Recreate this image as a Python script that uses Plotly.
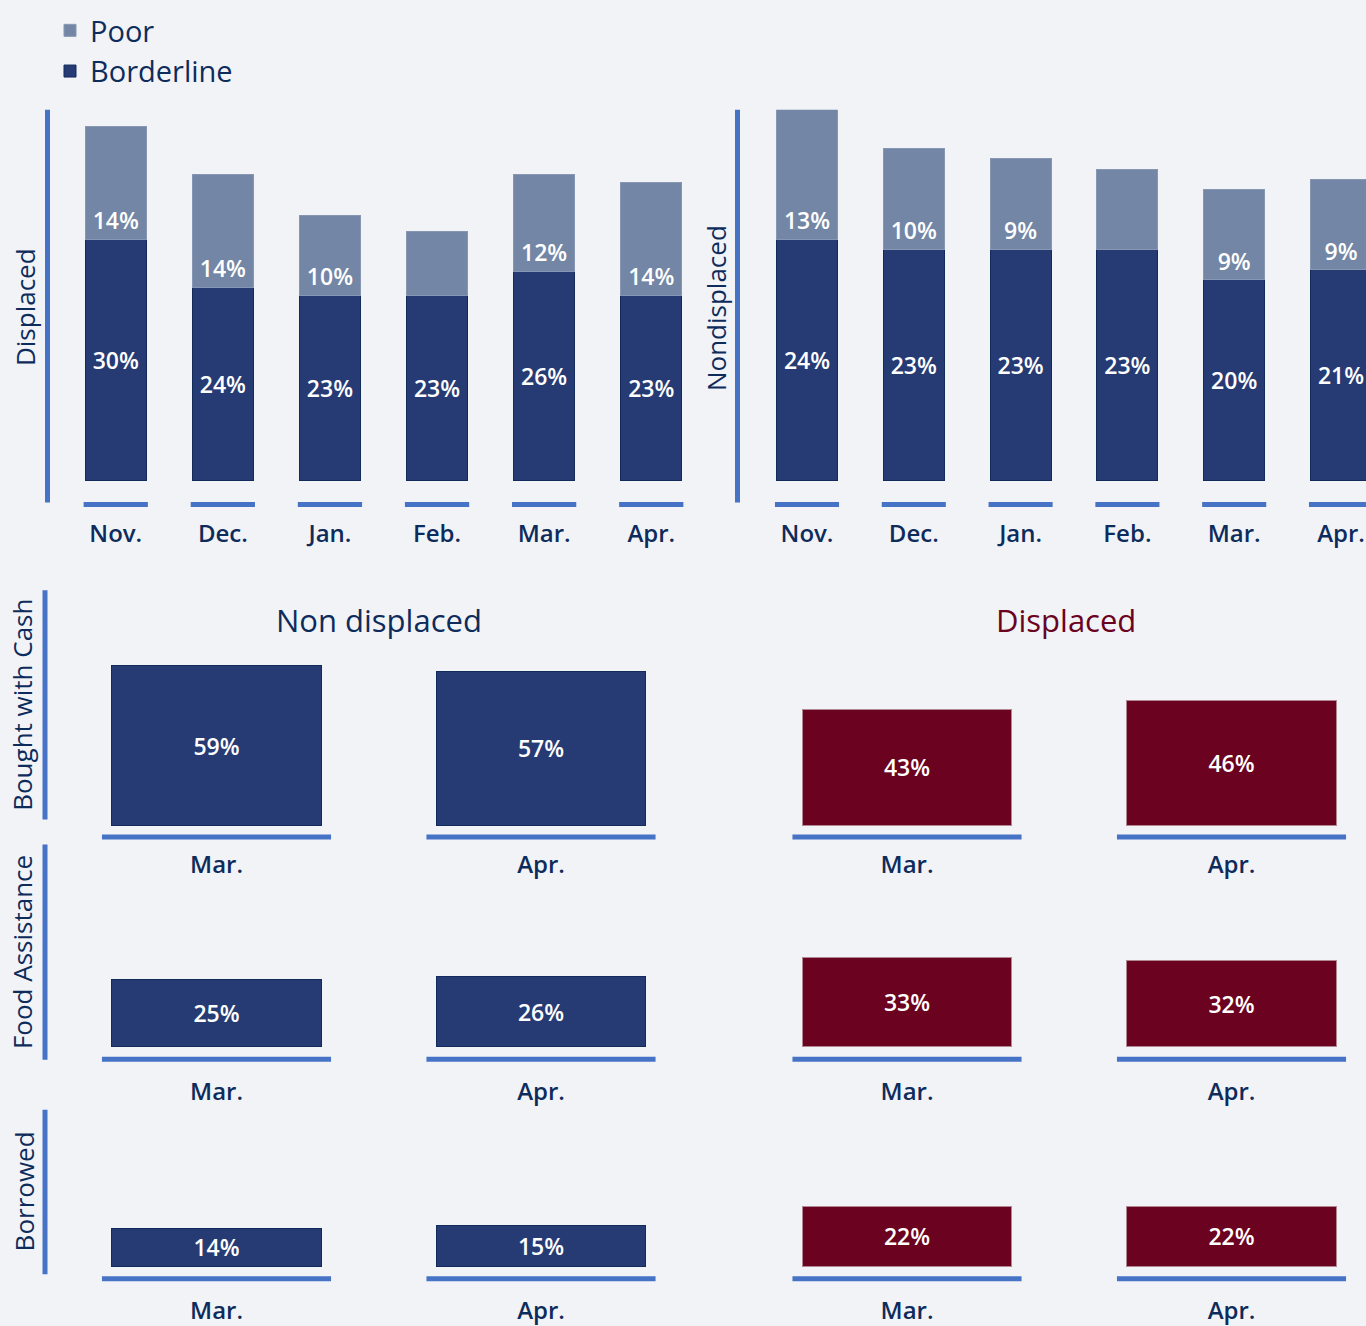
import plotly.graph_objects as go

W, H = 1366, 1326

# ---------------- data ----------------
months = ["Nov.", "Dec.", "Jan.", "Feb.", "Mar.", "Apr."]
displaced_borderline = [30, 24, 23, 23, 26, 23]
displaced_poor = [14, 14, 10, 8, 12, 14]
displaced_poor_labels = ["14%", "14%", "10%", "", "12%", "14%"]
nondisplaced_borderline = [24, 23, 23, 23, 20, 21]
nondisplaced_poor = [13, 10, 9, 8, 9, 9]
nondisplaced_poor_labels = ["13%", "10%", "9%", "", "9%", "9%"]

periods = ["Mar.", "Apr."]
row_titles = ["Bought with Cash", "Food Assistance", "Borrowed"]
nondisp_rows = [[59, 57], [25, 26], [14, 15]]
disp_rows = [[43, 46], [33, 32], [22, 22]]
group_titles = ["Non displaced", "Displaced"]

# ---------------- style ----------------
BG = "#F2F3F7"
NAVY = "#263B74"
POOR = "#7386A5"
MAROON = "#6A0220"
LINE = "#4673C6"
TXT = "#0E2C5B"
FONT = "'Open Sans', Lato, sans-serif"


def pct(v):
    return [f"{x}%" for x in v]


def cat_axis(left, right, c0, step):
    return dict(domain=[left / W, right / W],
                range=[(left - c0) / step, (right - c0) / step])


def val_axis(top, bottom, zero, scale):
    return dict(domain=[1 - bottom / H, 1 - top / H],
                range=[-(bottom - zero) / scale, (zero - top) / scale])


fig = go.Figure()
inside_font = dict(family=FONT, size=23, color="white", weight=600)

# top-left: displaced
fig.add_trace(go.Bar(x=list(range(len(months))), y=displaced_borderline, name="Borderline",
                     marker=dict(color=NAVY, line=dict(color="#102B5C", width=1)),
                     text=pct(displaced_borderline), textposition="inside",
                     insidetextanchor="middle", textfont=inside_font, width=0.57,
                     xaxis="x", yaxis="y", legendrank=2))
fig.add_trace(go.Bar(x=list(range(len(months))), y=displaced_poor, name="Poor",
                     marker=dict(color=POOR, line=dict(color="#8797B3", width=1)),
                     text=displaced_poor_labels, textposition="inside",
                     insidetextanchor="start", textfont=inside_font, width=0.57,
                     xaxis="x", yaxis="y", legendrank=1))
# top-right: nondisplaced
fig.add_trace(go.Bar(x=list(range(len(months))), y=nondisplaced_borderline, showlegend=False,
                     marker=dict(color=NAVY, line=dict(color="#102B5C", width=1)),
                     text=pct(nondisplaced_borderline), textposition="inside",
                     insidetextanchor="middle", textfont=inside_font, width=0.57,
                     xaxis="x2", yaxis="y2"))
fig.add_trace(go.Bar(x=list(range(len(months))), y=nondisplaced_poor, showlegend=False,
                     marker=dict(color=POOR, line=dict(color="#8797B3", width=1)),
                     text=nondisplaced_poor_labels, textposition="inside",
                     insidetextanchor="start", textfont=inside_font, width=0.57,
                     xaxis="x2", yaxis="y2"))

layout_axes = {}
tick_font = dict(family=FONT, size=24, color=TXT, weight=600)

top_x = [cat_axis(47.5, 705, 115.75, 107.1), cat_axis(737.5, 1366, 807, 106.8)]
top_y = [val_axis(110, 504, 482, 8.07), val_axis(110, 504, 482, 10.08)]
for k in range(2):
    xa = dict(top_x[k], tickmode="array", tickvals=list(range(len(months))), ticktext=months,
              showgrid=False, zeroline=False, showline=False, ticks="",
              tickfont=tick_font, ticklabelstandoff=15, fixedrange=True)
    ya = dict(top_y[k], showgrid=False, zeroline=False, showline=False,
              showticklabels=False, ticks="", fixedrange=True)
    if k == 1:
        xa["anchor"] = "y2"
        ya["anchor"] = "x2"
    layout_axes["xaxis" if k == 0 else "xaxis2"] = xa
    layout_axes["yaxis" if k == 0 else "yaxis2"] = ya

# bottom rows
row_y = [val_axis(590, 836, 828, 2.715), val_axis(845, 1063, 1050, 2.715),
         val_axis(1100, 1283, 1270, 2.715)]
bottom_x = [cat_axis(60, 700, 216.5, 324.5), cat_axis(720, 1366, 907, 324.5)]
ax_n = 3
bottom_axes = []
for r in range(3):
    for g, (vals, col) in enumerate([(nondisp_rows[r], NAVY), (disp_rows[r], MAROON)]):
        xn, yn = f"x{ax_n}", f"y{ax_n}"
        line_c = "#102B5C" if g == 0 else "#B08893"
        fig.add_trace(go.Bar(x=list(range(len(periods))), y=vals, showlegend=False,
                             marker=dict(color=col, line=dict(color=line_c, width=1)),
                             text=pct(vals), textposition="inside", insidetextanchor="middle",
                             textfont=inside_font, width=0.647, xaxis=xn, yaxis=yn))
        layout_axes[f"xaxis{ax_n}"] = dict(bottom_x[g], anchor=yn, tickmode="array",
                                           tickvals=list(range(len(periods))), ticktext=periods,
                                           showgrid=False, zeroline=False, showline=False,
                                           ticks="", tickfont=tick_font, ticklabelstandoff=15,
                                           fixedrange=True)
        layout_axes[f"yaxis{ax_n}"] = dict(row_y[r], anchor=xn, showgrid=False, zeroline=False,
                                           showline=False, showticklabels=False, ticks="",
                                           fixedrange=True)
        bottom_axes.append((xn, r))
        ax_n += 1

shapes = []
# baseline segments under each category
for i in range(len(months)):
    for xr in ("x", "x2"):
        shapes.append(dict(type="line", xref=xr, yref="paper", x0=i - 0.30, x1=i + 0.30,
                           y0=1 - 506 / H, y1=1 - 506 / H, line=dict(color=LINE, width=5)))
seg_px = [839.5, 1062.5, 1282.5]
for xn, r in bottom_axes:
    for i in range(len(periods)):
        shapes.append(dict(type="line", xref=xn, yref="paper", x0=i - 0.353, x1=i + 0.353,
                           y0=1 - seg_px[r] / H, y1=1 - seg_px[r] / H,
                           line=dict(color=LINE, width=5)))
# vertical axis lines
vlines = [(47.5, 110, 504), (737.5, 110, 504), (45, 592, 822), (45, 847, 1063), (45, 1113, 1278)]
for xp, t, b in vlines:
    shapes.append(dict(type="line", xref="paper", yref="paper", x0=xp / W, x1=xp / W,
                       y0=1 - t / H, y1=1 - b / H, line=dict(color=LINE, width=5)))

title_font = dict(family=FONT, size=26, color=TXT)
annotations = []
for text, xp, yp in [("Displaced", 25, 308), ("Nondisplaced", 716, 309),
                     (row_titles[0], 22, 707), (row_titles[1], 22, 955),
                     (row_titles[2], 24, 1195)]:
    annotations.append(dict(text=text, x=xp / W, y=1 - yp / H, xref="paper", yref="paper",
                            textangle=-90, showarrow=False, font=title_font,
                            xanchor="center", yanchor="middle"))
for text, xp, col in [(group_titles[0], 379, TXT), (group_titles[1], 1066, MAROON)]:
    annotations.append(dict(text=text, x=xp / W, y=1 - 622 / H, xref="paper", yref="paper",
                            showarrow=False, font=dict(family=FONT, size=31, color=col),
                            xanchor="center", yanchor="middle"))

fig.update_layout(
    width=W, height=H, margin=dict(l=0, r=0, t=0, b=0),
    paper_bgcolor=BG, plot_bgcolor=BG, barmode="stack",
    font=dict(family=FONT, color=TXT),
    showlegend=True,
    legend=dict(x=50 / W, y=1 - 5 / H, xanchor="left", yanchor="top", traceorder="normal",
                font=dict(family=FONT, size=29, color=TXT),
                bgcolor="rgba(0,0,0,0)", tracegroupgap=0),
    uniformtext=dict(minsize=20, mode="show"),
    shapes=shapes, annotations=annotations,
    **layout_axes,
)

fig.write_html("out.html", config={"displayModeBar": False},
               post_script="document.body.style.margin='0';document.body.style.background='#F2F3F7';")
